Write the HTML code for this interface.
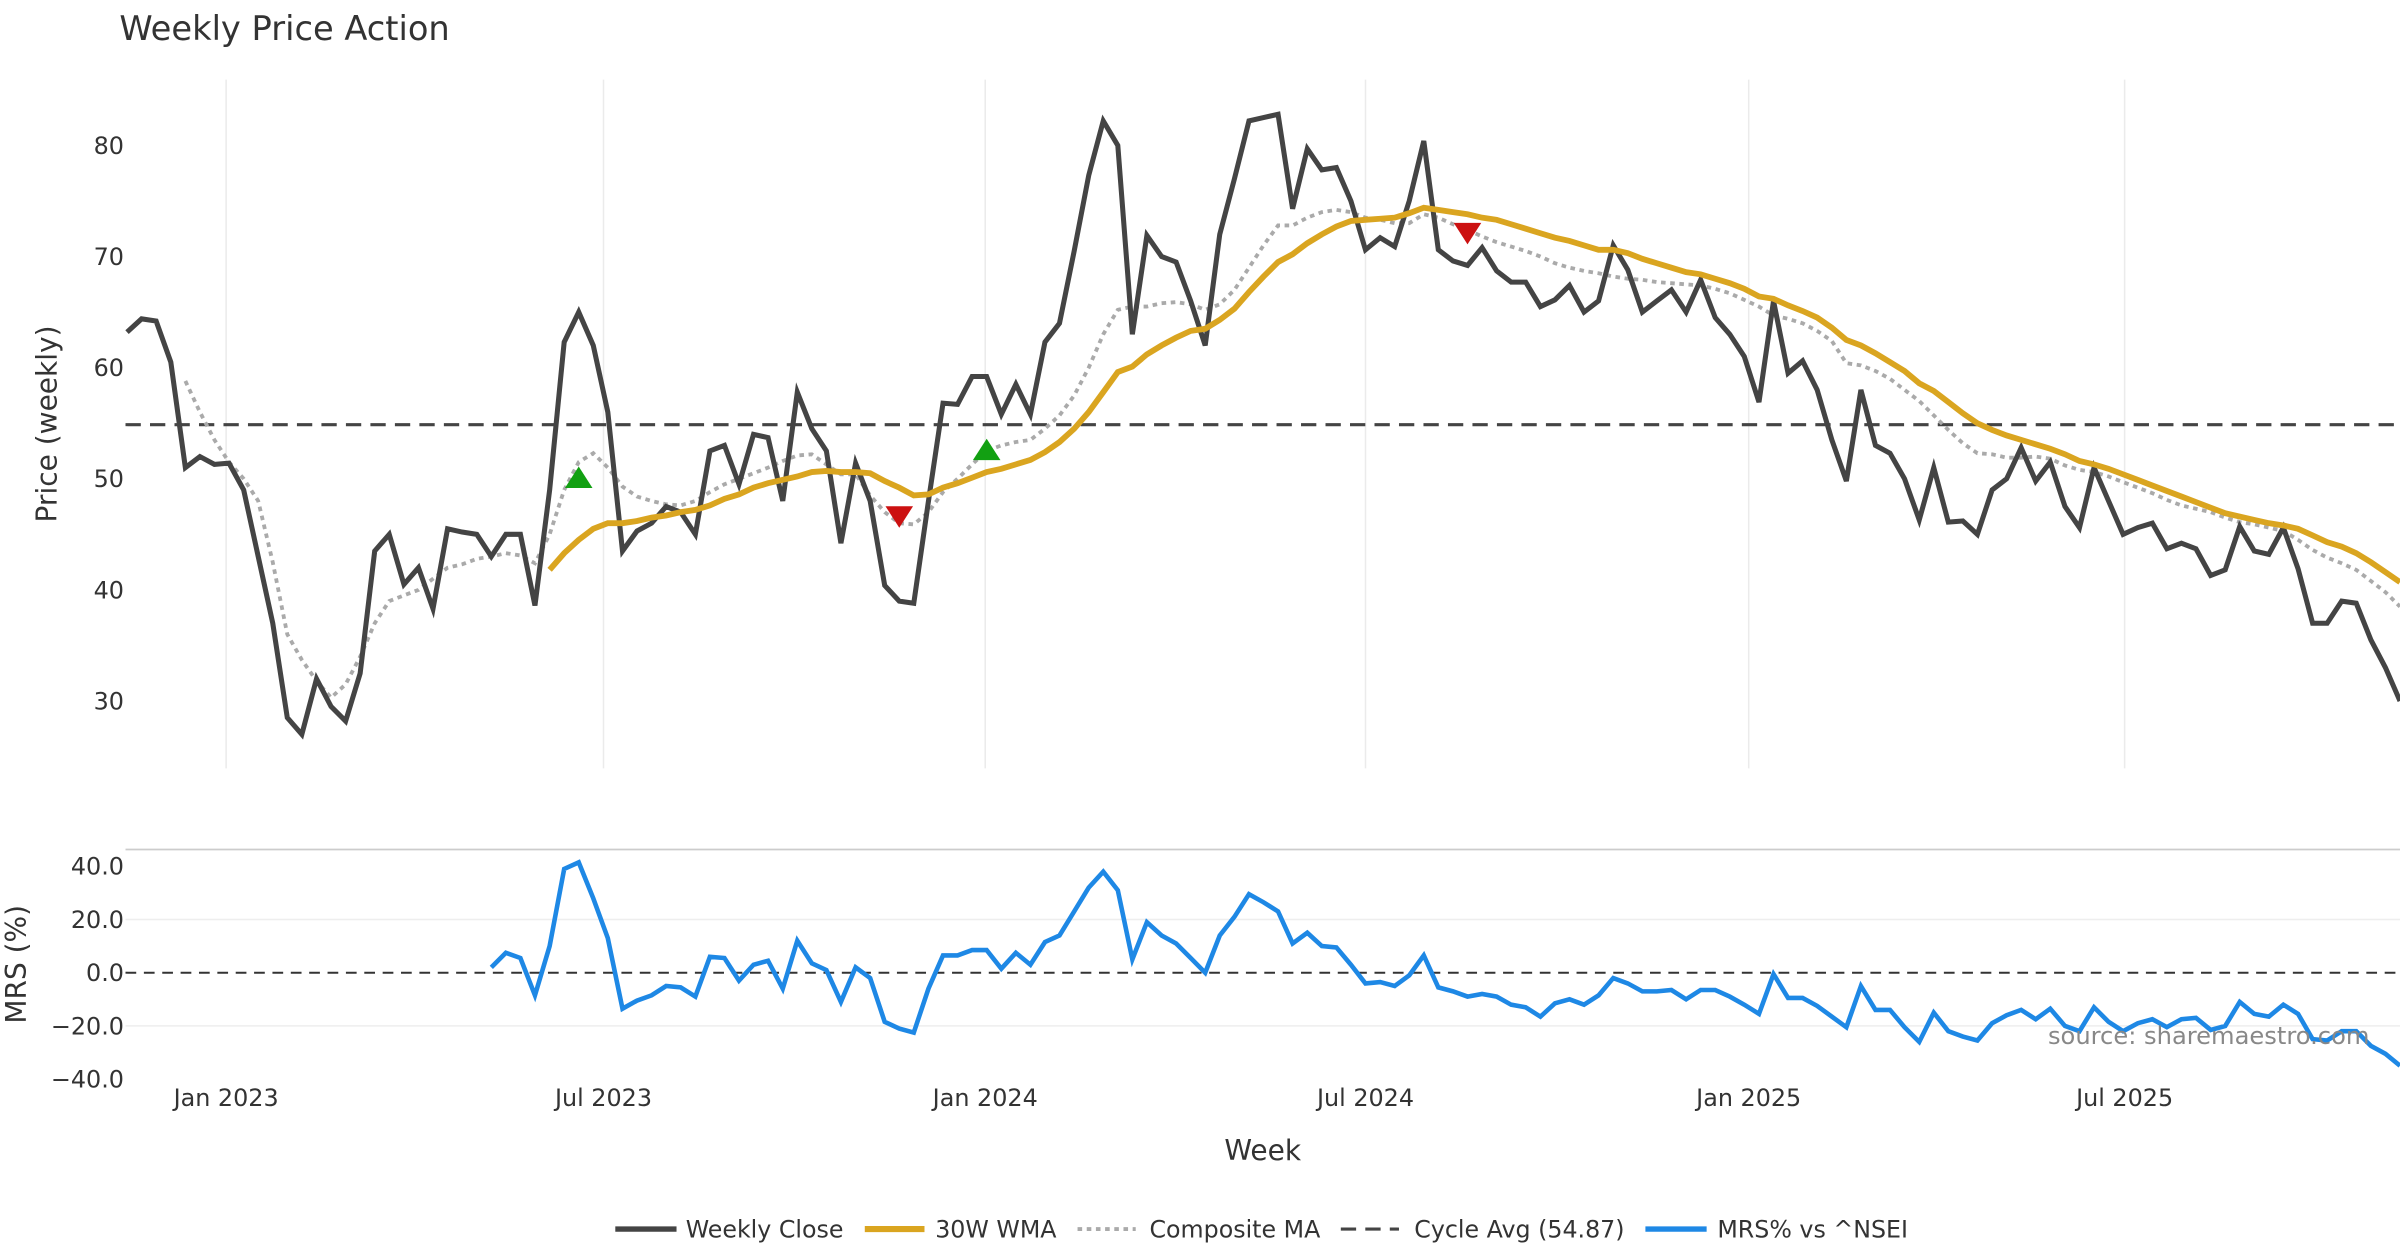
<!DOCTYPE html>
<html><head><meta charset="utf-8"><style>
html,body{margin:0;padding:0;background:#fff;}
svg{display:block;font-family:"DejaVu Sans","Liberation Sans",sans-serif;}
</style></head><body>
<svg id="chart" width="2400" height="1260" viewBox="0 0 1568 823.2" xmlns="http://www.w3.org/2000/svg">
<text x="78" y="26" font-size="22" fill="#333">Weekly Price Action</text>
<g id="grid"></g>
<g id="series"></g>
<g id="axes"></g>
<text transform="translate(37,277) rotate(-90)" text-anchor="middle" font-size="18.3" fill="#333">Price (weekly)</text>
<text transform="translate(17,630) rotate(-90)" text-anchor="middle" font-size="18.3" fill="#333">MRS (%)</text>
<text x="825" y="758" text-anchor="middle" font-size="18.3" fill="#333">Week</text>
<text x="1338" y="682" font-size="15.8" fill="#888">source: sharemaestro.com</text>
<g font-size="15.5" fill="#333">
 <g><line x1="402" y1="803" x2="442" y2="803" stroke="#444" stroke-width="3.5"/><text x="448" y="808.5">Weekly Close</text></g>
 <g><line x1="565" y1="803" x2="604" y2="803" stroke="#DAA520" stroke-width="4"/><text x="611" y="808.5">30W WMA</text></g>
 <g><line x1="704" y1="803" x2="742" y2="803" stroke="#aaa" stroke-width="2.5" stroke-dasharray="3,3"/><text x="751" y="808.5">Composite MA</text></g>
 <g><line x1="876" y1="803" x2="914" y2="803" stroke="#444" stroke-width="2" stroke-dasharray="10,6"/><text x="924" y="808.5">Cycle Avg (54.87)</text></g>
 <g><line x1="1075" y1="803" x2="1115" y2="803" stroke="#1E88E5" stroke-width="3.5"/><text x="1122" y="808.5">MRS% vs ^NSEI</text></g>
</g>
</svg>
<script>
const closeVals=[63.2,64.4,64.2,60.5,51,52,51.3,51.4,49,43,37,28.5,27,32,29.5,28.2,32.5,43.5,45,40.5,42,38.3,45.5,45.2,45,43,45,45,38.6,49,62.3,65,62,56,43.5,45.3,46,47.5,47,45,52.5,53,49.5,54,53.7,48,57.8,54.5,52.5,44.2,51.4,48,40.4,39,38.8,48,56.8,56.7,59.2,59.2,55.8,58.5,55.8,62.3,64,70.5,77.3,82.2,80,63,71.9,70,69.5,66,62,72,77,82.2,82.5,82.8,74.3,79.7,77.8,78,75,70.6,71.7,70.9,75,80.4,70.6,69.6,69.2,70.8,68.7,67.7,67.7,65.5,66.1,67.4,65,66,71,68.8,65,66,67,65,67.9,64.5,63,61,56.9,66,59.5,60.6,58,53.5,49.8,58,53,52.3,50,46.3,51,46.1,46.2,45,49,50,52.8,49.8,51.5,47.5,45.6,51,48,45,45.6,46,43.7,44.2,43.7,41.3,41.8,45.7,43.5,43.2,45.6,41.9,37,37,39,38.8,35.5,33,30];
const wmaVals=[41.8,43.3,44.5,45.5,46,46,46.2,46.5,46.7,47,47.2,47.6,48.2,48.6,49.2,49.6,49.9,50.2,50.6,50.7,50.6,50.6,50.5,49.8,49.2,48.5,48.6,49.2,49.6,50.1,50.6,50.9,51.3,51.7,52.4,53.3,54.5,56,57.8,59.6,60.1,61.2,62,62.7,63.3,63.5,64.3,65.3,66.8,68.2,69.5,70.2,71.2,72,72.7,73.2,73.3,73.4,73.5,73.9,74.4,74.2,74,73.8,73.5,73.3,72.9,72.5,72.1,71.7,71.4,71,70.6,70.6,70.3,69.8,69.4,69,68.6,68.4,68,67.6,67.1,66.4,66.2,65.6,65.1,64.5,63.6,62.5,62,61.3,60.5,59.7,58.6,57.9,56.9,55.9,55,54.4,53.9,53.5,53.1,52.7,52.2,51.6,51.3,50.9,50.4,49.9,49.4,48.9,48.4,47.9,47.4,46.9,46.6,46.3,46,45.8,45.5,44.9,44.3,43.9,43.3,42.5,41.6,40.7];
const compVals=[58.8,56,53.5,51.5,50,48,42.5,36,33.7,31.8,30.3,31.5,34,37,39,39.5,40,41,42,42.3,42.8,43,43.3,43.1,42.4,45,49,51.5,52.3,51,49.3,48.4,48,47.7,47.6,48,48.8,49.5,50,50.5,51,51.6,52.1,52.2,51.3,50.4,50.4,48.5,47,46,45.9,47,48.8,50,51.3,52.5,53,53.3,53.5,54.5,55.7,57.5,60,63,65.2,65.5,65.5,65.8,65.9,65.7,65.2,65.7,67,69,71,72.8,72.8,73.5,74,74.2,74,73.5,73.3,73,73,73.8,73.5,72.9,72.4,71.8,71.3,70.9,70.5,70,69.4,69,68.7,68.5,68.2,68,67.9,67.7,67.6,67.5,67.4,67.1,66.7,66.1,65.5,64.7,64.4,64,63.3,62.4,60.4,60.2,59.7,59,58,57,55.7,54.4,53.2,52.3,52.2,51.9,51.9,52,51.8,51.2,50.8,50.6,50.2,49.7,49.2,48.7,48.1,47.6,47.3,47,46.5,46.1,45.9,45.6,45.3,44.5,43.6,42.9,42.4,41.8,40.8,39.8,38.5];
const mrsVals=[2,7.5,5.5,-8.5,10,39,41.5,28,13,-13.5,-10.5,-8.5,-5,-5.5,-9,6,5.5,-3,3,4.5,-6,12,3.5,1,-11,2,-2,-18.5,-21,-22.5,-6,6.5,6.5,8.5,8.5,1.5,7.5,3,11.5,14,23,32,38,31,5,19,14,11,5.5,0,14,21,29.5,26.5,23,11,15,10,9.5,3,-4,-3.5,-5,-1,6.5,-5.5,-7,-9,-8,-9,-12,-13,-16.5,-11.5,-10,-12,-8.5,-2,-4,-7,-7,-6.5,-10,-6.5,-6.5,-9,-12,-15.5,-0.5,-9.5,-9.5,-12.5,-16.5,-20.5,-5,-14,-14,-20.5,-26,-15,-22,-24,-25.5,-19,-16,-14,-17.5,-13.5,-20,-22,-13,-18.5,-22,-19,-17.5,-20.5,-17.5,-17,-21.5,-20,-11,-15.5,-16.5,-12,-15.5,-25,-25.5,-22,-22,-27.5,-30.5,-35];
const cycleAvg=54.87;
const buyIdx=[31,59];
const buyVals=[50,52.5];
const sellIdx=[53,92];
const sellVals=[46.7,72.2];
const priceTicks=[30,40,50,60,70,80];
const mrsTicks=[40,20,0,-20,-40];
const mrsTickLabels=["40.0","20.0","0.0","\u221220.0","\u221240.0"];
const dateTickIdx=[6.8,32.7,58.9,85.0,111.3,137.1];
const dateTickLabels=["Jan 2023","Jul 2023","Jan 2024","Jul 2024","Jan 2025","Jul 2025"];

const NS="http://www.w3.org/2000/svg";
const N=closeVals.length;
const X0=83,X1=1568;
function xS(i){return X0+(X1-X0)*i/(N-1);}
function yP(v){return 95+(80-v)*(458-95)/50;}
function yM(v){return 566+(40-v)*(705-566)/80;}
function mk(tag,attrs,parent){const e=document.createElementNS(NS,tag);for(const k in attrs)e.setAttribute(k,attrs[k]);parent.appendChild(e);return e;}
const grid=document.getElementById('grid'),ser=document.getElementById('series'),axes=document.getElementById('axes');

dateTickIdx.forEach((t,k)=>{
  const x=xS(t);
  const g=mk('line',{x1:x,x2:x,y1:52,y2:502,stroke:'#ebebeb','stroke-width':1},grid);
  
  
  const tx=mk('text',{x:x,y:722.5,'text-anchor':'middle','font-size':15.6,fill:'#333'},axes);
  tx.textContent=dateTickLabels[k];
  
  
});
priceTicks.forEach(v=>{
  const tx=mk('text',{x:81,y:yP(v)+5.5,'text-anchor':'end','font-size':15.6,fill:'#333'},axes);
  tx.textContent=v;
  
  
});
const border=mk('line',{x1:82,x2:1568,y1:555,y2:555,stroke:'#ccc','stroke-width':1.2},grid);


mrsTicks.forEach((v,k)=>{
  if(v!==0&&Math.abs(v)<40){
    const g=mk('line',{x1:82,x2:1568,y1:yM(v),y2:yM(v),stroke:'#eee','stroke-width':1},grid);
    
    
  }
  const tx=mk('text',{x:81,y:yM(v)+5.5,'text-anchor':'end','font-size':15.6,fill:'#333'},axes);
  tx.textContent=mrsTickLabels[k];
  
  
});
const z=mk('line',{x1:82,x2:1568,y1:yM(0),y2:yM(0),stroke:'#333','stroke-width':1.3,'stroke-dasharray':'7,5'},grid);


const ca=mk('line',{x1:82,x2:1568,y1:yP(cycleAvg),y2:yP(cycleAvg),stroke:'#444','stroke-width':2,'stroke-dasharray':'10,6'},ser);



function path(vals,ys){const off=N-vals.length;return vals.map((v,i)=>(i?'L':'M')+xS(off+i).toFixed(1)+','+ys(v).toFixed(1)).join('');}
const pc=mk('path',{d:path(compVals,yP),fill:'none',stroke:'#aaa','stroke-width':2.5,'stroke-dasharray':'3,3'},ser);


const pcl=mk('path',{d:path(closeVals,yP),fill:'none',stroke:'#444','stroke-width':3.3,'stroke-linejoin':'miter'},ser);


const pw=mk('path',{d:path(wmaVals,yP),fill:'none',stroke:'#DAA520','stroke-width':3.8},ser);


const pm=mk('path',{d:path(mrsVals,yM),fill:'none',stroke:'#1E88E5','stroke-width':3},ser);


buyIdx.forEach((ix,k)=>{
  const x=xS(ix),y=yP(buyVals[k]);
  const t=mk('polygon',{points:`${x-9},${y+6} ${x+9},${y+6} ${x},${y-8}`,fill:'#12A012'},ser);
  
  
});
sellIdx.forEach((ix,k)=>{
  const x=xS(ix),y=yP(sellVals[k]);
  const t=mk('polygon',{points:`${x-9},${y-6} ${x+9},${y-6} ${x},${y+8}`,fill:'#CC1111'},ser);
  
  
});
</script>
</body></html>
